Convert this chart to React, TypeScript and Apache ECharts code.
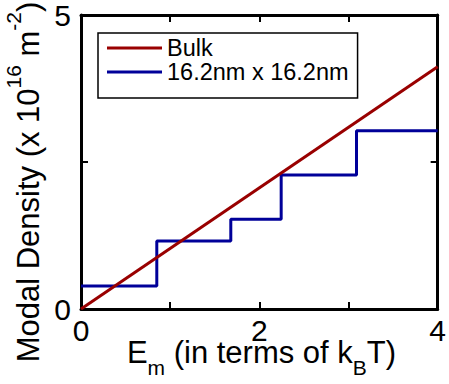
import React, { useEffect, useRef } from 'react';
import * as echarts from 'echarts';

const xTicks = [0, 1, 2, 3, 4];
const xTickLabels = ['0', '', '2', '', '4'];
const yTicks = [0, 2.5, 5];
const yTickLabels = ['0', '', '5'];
const seriesNames = ['Bulk', '16.2nm x 16.2nm'];
const bulkX = [0, 4];
const bulkY = [0, 4.12];
const stepX = [0, 0.85, 1.68, 2.245, 3.09, 4];
const stepY = [0.39, 1.155, 1.525, 2.28, 3.03, 3.03];
// x title pieces: [text, isSubscript]
const xTitleParts: [string, boolean][] = [
  ['E', false],
  ['m', true],
  [' (in terms of k', false],
  ['B', true],
  ['T)', false],
];
const yTitle = 'Modal Density (x 10{sup|16} m{sup|-2})';

const FONT = 'Liberation Sans, Arial, sans-serif';
const RED = '#990000';
const BLUE = '#000099';

const MAIN = 31;
const SMALL = 21;

function measure(text: string, size: number): number {
  const c = document.createElement('canvas').getContext('2d');
  if (!c) return text.length * size * 0.55;
  c.font = `${size}px "Liberation Sans", Arial, sans-serif`;
  return c.measureText(text).width;
}

export default function App() {
  const ref = useRef<HTMLDivElement>(null);
  useEffect(() => {
    if (!ref.current) return;
    const chart = echarts.init(ref.current, undefined, { renderer: 'svg' });
    const xFmt = (v: number) => {
      const i = xTicks.indexOf(v);
      return i >= 0 ? xTickLabels[i] : '';
    };
    const yFmt = (v: number) => {
      const i = yTicks.indexOf(v);
      return i >= 0 ? yTickLabels[i] : '';
    };
    const axisLine = { show: true, onZero: false, lineStyle: { color: '#000', width: 3 } };
    const axisTick = { show: true, inside: true, length: 7, lineStyle: { color: '#000', width: 2 } };
    const xBase = {
      type: 'value' as const,
      min: xTicks[0],
      max: xTicks[xTicks.length - 1],
      interval: 1,
      axisLine,
      axisTick,
      splitLine: { show: false },
    };
    const yBase = {
      type: 'value' as const,
      min: yTicks[0],
      max: yTicks[yTicks.length - 1],
      interval: 2.5,
      axisLine,
      axisTick,
      splitLine: { show: false },
    };

    // build x title from pieces
    const widths = xTitleParts.map(([t, sub]) => measure(t, sub ? SMALL : MAIN));
    const total = widths.reduce((a, b) => a + b, 0);
    const centerX = 261.5;
    const mainBaseline = 363;
    const subBaseline = 375;
    let cx = centerX - total / 2;
    const xTitleEls = xTitleParts.map(([t, sub], i) => {
      const size = sub ? SMALL : MAIN;
      const base = sub ? subBaseline : mainBaseline;
      const el = {
        type: 'text',
        x: cx,
        y: base - 0.3465 * size,
        style: {
          text: t,
          fontSize: size,
          fontFamily: FONT,
          lineHeight: sub ? 16 : 22,
          fill: '#000',
          align: 'left',
          verticalAlign: 'middle',
          textAlign: 'left',
          textVerticalAlign: 'middle',
        },
      };
      cx += widths[i];
      return el;
    });

    chart.setOption({
      animation: false,
      backgroundColor: '#fff',
      grid: { left: 81, right: 8, top: 15, bottom: 75, containLabel: false },
      xAxis: [
        {
          ...xBase,
          position: 'bottom',
          axisLabel: {
            show: true,
            formatter: xFmt,
            fontSize: 30,
            lineHeight: 20,
            fontFamily: FONT,
            color: '#000',
            margin: 11,
          },
        },
        { ...xBase, position: 'top', axisLabel: { show: false } },
      ],
      yAxis: [
        {
          ...yBase,
          position: 'left',
          axisLabel: { show: true, formatter: yFmt, fontSize: 30, fontFamily: FONT, color: '#000', margin: 10 },
        },
        { ...yBase, position: 'right', axisLabel: { show: false } },
      ],
      legend: {
        data: seriesNames,
        orient: 'vertical',
        left: 98,
        top: 33,
        icon: 'rect',
        itemWidth: 55,
        itemHeight: 3,
        itemGap: 0,
        padding: [3, 9, 14, 9],
        borderColor: '#000',
        borderWidth: 1.5,
        backgroundColor: '#fff',
        selectedMode: false,
        textStyle: { fontSize: 23.5, fontFamily: FONT, color: '#000', lineHeight: 24 },
      },
      graphic: [
        ...xTitleEls,
        {
          type: 'text',
          x: 28,
          y: 182,
          rotation: Math.PI / 2,
          style: {
            text: yTitle,
            fontSize: MAIN,
            fontFamily: FONT,
            lineHeight: 50,
            fill: '#000',
            align: 'center',
            verticalAlign: 'middle',
            textAlign: 'center',
            textVerticalAlign: 'middle',
            rich: {
              sup: { fontSize: SMALL, lineHeight: 21, fontFamily: FONT, fill: '#000', verticalAlign: 'top' },
            },
          },
        },
      ],
      series: [
        {
          name: seriesNames[1],
          type: 'line',
          step: 'end',
          symbol: 'none',
          z: 2,
          lineStyle: { color: BLUE, width: 3 },
          itemStyle: { color: BLUE },
          data: stepX.map((x, i) => [x, stepY[i]]),
        },
        {
          name: seriesNames[0],
          type: 'line',
          symbol: 'none',
          z: 3,
          lineStyle: { color: RED, width: 3 },
          itemStyle: { color: RED },
          data: bulkX.map((x, i) => [x, bulkY[i]]),
        },
      ],
    });
    return () => chart.dispose();
  }, []);
  return <div ref={ref} style={{ position: 'fixed', left: 0, top: 0, width: 449, height: 384 }} />;
}
